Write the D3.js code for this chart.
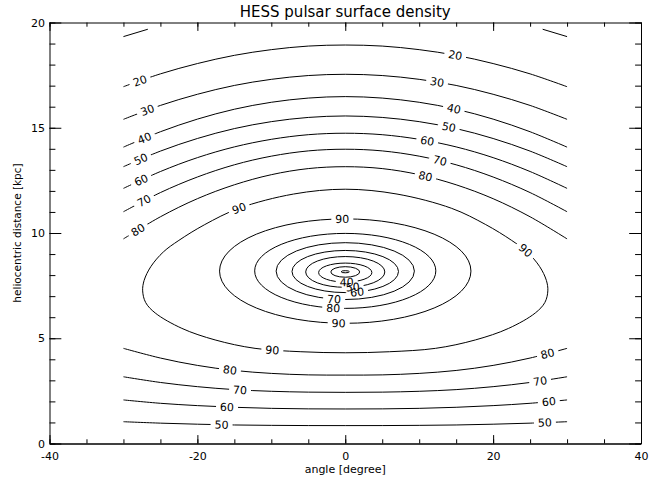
<!DOCTYPE html>
<html><head><meta charset="utf-8">
<script src="https://cdn.jsdelivr.net/npm/d3@7"></script>
<style>
html,body{margin:0;padding:0;background:#fff;}
svg{display:block;}
text{font-family:"DejaVu Sans",sans-serif;fill:#000;}
</style></head><body>
<svg id="chart" width="649" height="485"></svg>
<script>
// ---------------- data ----------------
const titleText = "HESS pulsar surface density";
const xAxisTitle = "angle [degree]";
const yAxisTitle = "heliocentric distance [kpc]";
const xTickLabels = [-40, -20, 0, 20, 40];
const xMinorTicks = [-40,-35,-30,-25,-20,-15,-10,-5,0,5,10,15,20,25,30,35,40];
const yTickLabels = [0, 5, 10, 15, 20];
const yMinorTicks = d3.range(0, 21, 1);

// sample angles of the open contours
const gridX = [-30,-25,-20,-15,-10,-5,0,5,10,15,20,25,30];

// upper (far side) contour lines, heliocentric distance at each gridX
const upper20 = [16.95,17.56,18.05,18.44,18.71,18.88,18.93,18.88,18.71,18.44,18.05,17.56,16.95];
const upper30 = [15.40,16.06,16.59,17.01,17.30,17.48,17.54,17.48,17.30,17.01,16.59,16.06,15.40];
const upper40 = [14.08,14.81,15.41,15.88,16.21,16.41,16.48,16.41,16.21,15.88,15.41,14.81,14.08];
const upper50 = [13.15,13.89,14.49,14.96,15.29,15.49,15.56,15.49,15.29,14.96,14.49,13.89,13.15];
const upper60 = [12.12,12.92,13.58,14.09,14.45,14.67,14.74,14.67,14.45,14.09,13.58,12.92,12.12];
const upper70 = [11.01,11.92,12.66,13.24,13.65,13.90,13.98,13.90,13.65,13.24,12.66,11.92,11.01];
const upper80 = [9.72,10.77,11.63,12.29,12.77,13.06,13.15,13.06,12.77,12.29,11.63,10.77,9.72];

// lower (near side) contour lines
const lower80 = [4.52,4.06,3.71,3.47,3.33,3.26,3.25,3.26,3.33,3.47,3.71,4.06,4.52];
const lower70 = [3.17,2.90,2.70,2.56,2.48,2.44,2.43,2.44,2.48,2.56,2.70,2.90,3.17];
const lower60 = [2.07,1.91,1.80,1.72,1.67,1.645,1.64,1.645,1.67,1.72,1.80,1.91,2.07];
const lower50 = [1.035,0.967,0.917,0.88,0.862,0.852,0.85,0.852,0.862,0.88,0.917,0.967,1.035];

// level-10 contour fragments at the top corners
const corner10LeftX = [-30, -26.7];
const corner10LeftY = [19.33, 19.68];
const corner10RightX = [26.7, 30];
const corner10RightY = [19.68, 19.33];

// large closed 90 contour
const egg90X = [0,7,14.4,19,22.5,24.6,26.3,27.2,27.4,27.0,25.7,22.1,17.6,12.2,6,0,-6,-12.2,-17.6,-22.1,-25.7,-27.0,-27.4,-27.2,-26.3,-24.6,-22.5,-19,-14.4,-7];
const egg90Y = [12.08,11.85,11.17,10.4,9.65,9.1,8.4,7.75,7.25,6.7,6.2,5.47,4.92,4.52,4.36,4.31,4.36,4.52,4.92,5.47,6.2,6.7,7.25,7.75,8.4,9.1,9.65,10.4,11.17,11.85];

// nested closed contours around the Galactic Centre
const ringLevels = [90, 80, 70, 60, 50, 40, 30, 20];
const ringCx = [0, 0, 0, 0, 0, 0, 0, 0];
const ringCy = [8.19, 8.2, 8.19, 8.17, 8.15, 8.12, 8.15, 8.16];
const ringRx = [17.0, 12.25, 9.35, 7.2, 5.35, 3.6, 1.95, 0.55];
const ringRy = [2.48, 1.78, 1.35, 1.0, 0.73, 0.45, 0.25, 0.05];

// contour labels: curve id, text, approximate position
const labelCurve = ["u20","u20","u30","u30","u40","u40","u50","u50","u60","u60","u70","u70","u80","u80",
  "egg","egg","egg","r90","r90","r80","r70","r60","r50","r40",
  "l80","l80","l70","l70","l60","l60","l50","l50"];
const labelText = ["20","20","30","30","40","40","50","50","60","60","70","70","80","80",
  "90","90","90","90","90","80","70","60","50","40",
  "80","80","70","70","60","60","50","50"];
const labelX = [-27.7,14.9,-26.8,12.4,-27.2,14.7,-27.6,14.0,-27.6,11.1,-27.2,12.8,-28.0,10.9,
  -14.4,24.4,-9.9,-0.4,-0.9,-1.6,-1.5,1.6,1.0,0.2,
  -15.6,27.4,-14.2,26.4,-16.0,27.5,-16.7,27.0];
const labelY = [17.19,18.46,15.84,17.19,14.55,15.89,13.43,15.02,12.52,14.39,11.49,13.43,10.14,12.72,
  11.17,9.19,4.44,10.7,5.71,6.42,6.85,7.18,7.45,7.66,
  3.46,4.2,2.54,2.94,1.75,1.99,0.91,1.01];

// ---------------- drawing ----------------
const W = 649, H = 485;
const plot = {left: 49.5, right: 641, top: 22.5, bottom: 443.5};
const svg = d3.select("#chart");
const x = d3.scaleLinear().domain([-40, 40]).range([plot.left, plot.right]);
const y = d3.scaleLinear().domain([0, 20]).range([plot.bottom, plot.top]);

const defs = svg.append("defs");
const gLines = svg.append("g").attr("fill", "none").attr("stroke", "#000").attr("stroke-width", 1);
const gLabels = svg.append("g");

const curves = {};
const openLine = d3.line().x(d => x(d[0])).y(d => y(d[1])).curve(d3.curveCatmullRom.alpha(0.5));
const closedLine = d3.line().x(d => x(d[0])).y(d => y(d[1])).curve(d3.curveCatmullRomClosed.alpha(0.5));

function zipXY(xs, ys) { return xs.map((v, i) => [v, ys[i]]); }
function addPath(id, d) {
  curves[id] = gLines.append("path").attr("d", d).attr("id", "c_" + id);
}

addPath("c10L", openLine(zipXY(corner10LeftX, corner10LeftY)));
addPath("c10R", openLine(zipXY(corner10RightX, corner10RightY)));
[["u20",upper20],["u30",upper30],["u40",upper40],["u50",upper50],["u60",upper60],["u70",upper70],["u80",upper80],
 ["l80",lower80],["l70",lower70],["l60",lower60],["l50",lower50]].forEach(([id, ys]) => {
  addPath(id, openLine(zipXY(gridX, ys)));
});
addPath("egg", closedLine(zipXY(egg90X, egg90Y)));
ringLevels.forEach((lev, i) => {
  const cx = x(ringCx[i]), cy = y(ringCy[i]);
  const rx = x(ringCx[i] + ringRx[i]) - cx;
  const ry = cy - y(ringCy[i] + ringRy[i]);
  const d = `M${cx - rx},${cy}A${rx},${ry} 0 1 0 ${cx + rx},${cy}A${rx},${ry} 0 1 0 ${cx - rx},${cy}Z`;
  addPath("r" + lev, d);
});

// labels, with gaps cut in their own contour line
function nearest(node, px, py) {
  const L = node.getTotalLength();
  let best = 0, bd = Infinity;
  const N = 800;
  for (let i = 0; i <= N; i++) {
    const l = L * i / N, p = node.getPointAtLength(l);
    const dd = (p.x - px) ** 2 + (p.y - py) ** 2;
    if (dd < bd) { bd = dd; best = l; }
  }
  const p = node.getPointAtLength(best);
  const a = node.getPointAtLength(Math.max(0, best - 3));
  const b = node.getPointAtLength(Math.min(L, best + 3));
  let ang = Math.atan2(b.y - a.y, b.x - a.x) * 180 / Math.PI;
  if (ang > 90) ang -= 180;
  if (ang < -90) ang += 180;
  return {x: p.x, y: p.y, ang};
}

const cuts = {};
labelCurve.forEach((cid, i) => {
  const node = curves[cid].node();
  const pos = nearest(node, x(labelX[i]), y(labelY[i]));
  const t = gLabels.append("text")
    .attr("transform", `translate(${pos.x},${pos.y}) rotate(${pos.ang})`)
    .attr("text-anchor", "middle").attr("dy", "0.36em")
    .style("font-size", "11px").text(labelText[i]);
  const w = t.node().getComputedTextLength();
  (cuts[cid] = cuts[cid] || []).push({pos, w});
});
Object.keys(cuts).forEach(cid => {
  const m = defs.append("mask").attr("id", "m_" + cid).attr("maskUnits", "userSpaceOnUse")
    .attr("x", 0).attr("y", 0).attr("width", W).attr("height", H);
  m.append("rect").attr("x", 0).attr("y", 0).attr("width", W).attr("height", H).attr("fill", "#fff");
  cuts[cid].forEach(c => {
    m.append("rect").attr("x", -c.w / 2 - 4).attr("y", -5.5).attr("width", c.w + 8).attr("height", 11)
      .attr("transform", `translate(${c.pos.x},${c.pos.y}) rotate(${c.pos.ang})`).attr("fill", "#000");
  });
  curves[cid].attr("mask", `url(#m_${cid})`);
});

// axes (IDL style: ticks inward on all four sides)
const tickX = 0.02 * (plot.bottom - plot.top);
const tickY = 0.02 * (plot.right - plot.left);
const fmt = d => String(d);
function styleAxis(g) {
  g.selectAll(".domain").attr("stroke", "#000");
  g.selectAll(".tick line").attr("stroke", "#000");
  g.selectAll("text").style("font-family", '"DejaVu Sans",sans-serif').style("font-size", "11px").attr("fill", "#000");
}
svg.append("g").attr("transform", `translate(0,${plot.bottom})`)
  .call(d3.axisBottom(x).tickValues(xMinorTicks).tickSize(-tickX / 2).tickSizeOuter(0).tickFormat(""))
  .call(styleAxis).call(g => g.select(".domain").attr("stroke-width", 1.5));
svg.append("g").attr("transform", `translate(0,${plot.bottom})`)
  .call(d3.axisBottom(x).tickValues(xTickLabels).tickSize(-tickX).tickSizeOuter(0).tickPadding(9).tickFormat(fmt))
  .call(styleAxis).call(g => g.select(".domain").remove());
svg.append("g").attr("transform", `translate(0,${plot.top})`)
  .call(d3.axisTop(x).tickValues(xMinorTicks).tickSize(-tickX / 2).tickSizeOuter(0).tickFormat(""))
  .call(styleAxis);
svg.append("g").attr("transform", `translate(0,${plot.top})`)
  .call(d3.axisTop(x).tickValues(xTickLabels).tickSize(-tickX).tickSizeOuter(0).tickFormat(""))
  .call(styleAxis).call(g => g.select(".domain").remove());
svg.append("g").attr("transform", `translate(${plot.left},0)`)
  .call(d3.axisLeft(y).tickValues(yMinorTicks).tickSize(-tickY / 2).tickSizeOuter(0).tickFormat(""))
  .call(styleAxis);
svg.append("g").attr("transform", `translate(${plot.left},0)`)
  .call(d3.axisLeft(y).tickValues(yTickLabels).tickSize(-tickY).tickSizeOuter(0).tickPadding(4.5).tickFormat(fmt))
  .call(styleAxis).call(g => g.select(".domain").remove());
svg.append("g").attr("transform", `translate(${plot.right},0)`)
  .call(d3.axisRight(y).tickValues(yMinorTicks).tickSize(-tickY / 2).tickSizeOuter(0).tickFormat(""))
  .call(styleAxis);
svg.append("g").attr("transform", `translate(${plot.right},0)`)
  .call(d3.axisRight(y).tickValues(yTickLabels).tickSize(-tickY).tickSizeOuter(0).tickFormat(""))
  .call(styleAxis).call(g => g.select(".domain").remove());

// titles
svg.append("text").attr("x", (plot.left + plot.right) / 2).attr("y", 17)
  .attr("text-anchor", "middle").style("font-size", "15px").text(titleText);
svg.append("text").attr("x", (plot.left + plot.right) / 2).attr("y", 473)
  .attr("text-anchor", "middle").style("font-size", "11px").text(xAxisTitle);
svg.append("text").attr("transform", `translate(21,${(plot.top + plot.bottom) / 2}) rotate(-90)`)
  .attr("text-anchor", "middle").style("font-size", "10.5px").text(yAxisTitle);
</script>
</body></html>
